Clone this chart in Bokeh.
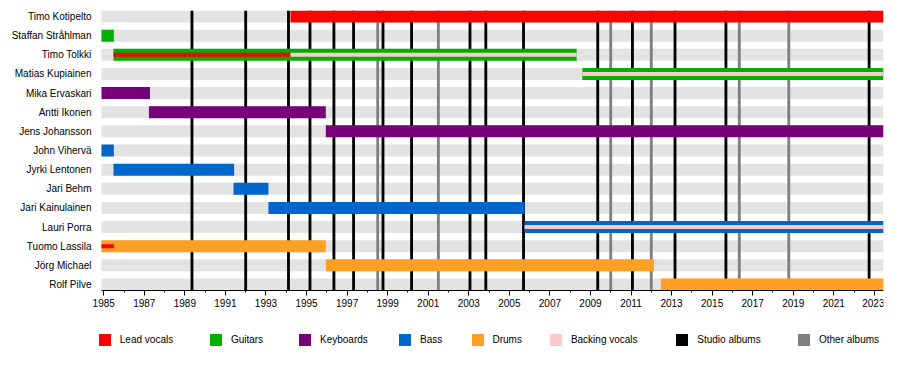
from bokeh.plotting import figure
from bokeh.models import Range1d, FixedTicker, ColumnDataSource, Legend, LegendItem
from bokeh.embed import file_html
from bokeh.resources import INLINE

# ---------------- data ----------------
START = 1984.89
END = 2023.45

members = ["Timo Kotipelto", "Staffan Stråhlman", "Timo Tolkki", "Matias Kupiainen",
           "Mika Ervaskari", "Antti Ikonen", "Jens Johansson", "John Vihervä",
           "Jyrki Lentonen", "Jari Behm", "Jari Kainulainen", "Lauri Porra",
           "Tuomo Lassila", "Jörg Michael", "Rolf Pilve"]

roles = ["Lead vocals", "Guitars", "Keyboards", "Bass", "Drums", "Backing vocals"]
role_colors = ["#ff0000", "#00b000", "#780078", "#0066cc", "#ffa024", "#ffc8cf"]

main_member = ["Timo Kotipelto", "Staffan Stråhlman", "Timo Tolkki", "Matias Kupiainen",
               "Mika Ervaskari", "Antti Ikonen", "Jens Johansson", "John Vihervä",
               "Jyrki Lentonen", "Jari Behm", "Jari Kainulainen", "Lauri Porra",
               "Tuomo Lassila", "Jörg Michael", "Rolf Pilve"]
main_role = ["Lead vocals", "Guitars", "Guitars", "Guitars",
             "Keyboards", "Keyboards", "Keyboards", "Bass",
             "Bass", "Bass", "Bass", "Bass",
             "Drums", "Drums", "Drums"]
main_start = [1994.21, START, 1985.48, 2008.60,
              START, 1987.23, 1995.95, START,
              1985.48, 1991.40, 1993.12, 2005.75,
              START, 1995.95, 2012.47]
main_end = [END, 1985.50, 2008.32, END,
            1987.28, 1995.95, END, 1985.50,
            1991.43, 1993.12, 2005.75, END,
            1995.95, 2012.13, END]

sec_member = ["Timo Tolkki", "Timo Tolkki", "Matias Kupiainen", "Lauri Porra", "Tuomo Lassila"]
sec_role = ["Lead vocals", "Backing vocals", "Backing vocals", "Backing vocals", "Lead vocals"]
sec_start = [1985.48, 1994.21, 2008.60, 2005.75, START]
sec_end = [1994.21, 2008.32, END, END, 1985.50]

studio_albums = [1989.35, 1992.00, 1994.11, 1995.17, 1996.35, 1997.32, 1998.77, 2000.18,
                 2003.06, 2003.84, 2005.70, 2009.36, 2011.07, 2013.17, 2015.68, 2022.74]
other_albums = [1998.51, 2001.50, 2010.00, 2012.00, 2016.34, 2018.78]

major_years = list(range(1985, 2024, 2))
minor_years = list(range(1985, 2024))

# ---------------- styling / layout ----------------
FONT = "Liberation Sans"
W, H = 884, 354
FRAME_LEFT = 92          # px, frame left edge
BAR_LEFT = 101           # px where the timeline begins
FRAME_TOP = 10
ROWS_BOTTOM = 290        # px where the rows end (x-axis line)
PAD = 0.315
BAR_H = 0.627
INNER_H = 0.21
ALBUM_W = 0.14
LEGEND_X = [4.8, 115.9, 205.0, 305.0, 377.5, 455.9, 582.3, 704.0]
LEGEND_Y = 7.5

n = len(members)
row = {m: i for i, m in enumerate(members)}
color = dict(zip(roles, role_colors))

frame_w = W - FRAME_LEFT - 1
px_per_year = (FRAME_LEFT + frame_w - BAR_LEFT) / (END - START)
x_start = START - (BAR_LEFT - FRAME_LEFT) / px_per_year

rows_span = (n - 1) + 2 * PAD
px_per_row = (ROWS_BOTTOM - FRAME_TOP) / rows_span
y_bottom = (n - 1) + PAD + (H - ROWS_BOTTOM) / px_per_row

p = figure(width=W, height=H,
           x_range=Range1d(x_start, END),
           y_range=Range1d(y_bottom, -PAD),
           output_backend="svg", toolbar_location=None,
           min_border_left=FRAME_LEFT, min_border_right=1,
           min_border_top=FRAME_TOP, min_border_bottom=0)
p.outline_line_color = None
p.xgrid.visible = False
p.ygrid.visible = False
p.background_fill_color = "white"

# row stripes
p.hbar(y=list(range(n)), left=START, right=END, height=BAR_H,
       fill_color="#e3e3e3", line_color=None, level="image")

# album lines
studio_r = p.vbar(x=studio_albums, width=ALBUM_W, bottom=-PAD, top=n - 1 + PAD,
                  fill_color="black", line_color=None, level="underlay")
other_r = p.vbar(x=other_albums, width=ALBUM_W, bottom=-PAD, top=n - 1 + PAD,
                 fill_color="#7f7f7f", line_color=None, level="underlay")

role_renderers = {r: [] for r in roles}

for r in roles:
    idx = [i for i, rr in enumerate(main_role) if rr == r]
    if not idx:
        continue
    src = ColumnDataSource(dict(
        y=[row[main_member[i]] for i in idx],
        left=[main_start[i] for i in idx],
        right=[main_end[i] for i in idx]))
    rend = p.hbar(y="y", left="left", right="right", height=BAR_H, source=src,
                  fill_color=color[r], line_color=None)
    role_renderers[r].append(rend)

for r in roles:
    idx = [i for i, rr in enumerate(sec_role) if rr == r]
    if not idx:
        continue
    src = ColumnDataSource(dict(
        y=[row[sec_member[i]] for i in idx],
        left=[sec_start[i] for i in idx],
        right=[sec_end[i] for i in idx]))
    rend = p.hbar(y="y", left="left", right="right", height=INNER_H, source=src,
                  fill_color=color[r], line_color=None)
    role_renderers[r].append(rend)

# axes
p.xaxis.fixed_location = n - 1 + PAD
p.xaxis.bounds = (START, END)
p.xaxis.ticker = FixedTicker(ticks=major_years, minor_ticks=minor_years)
p.xaxis.axis_line_color = "black"
p.xaxis.major_tick_line_color = "black"
p.xaxis.minor_tick_line_color = "black"
p.xaxis.major_tick_in = 0
p.xaxis.major_tick_out = 5
p.xaxis.minor_tick_in = 0
p.xaxis.minor_tick_out = 2
p.xaxis.major_label_standoff = 3
p.xaxis.major_label_text_font = FONT
p.xaxis.major_label_text_font_size = "10px"
p.xaxis.major_label_text_color = "black"

p.yaxis.ticker = FixedTicker(ticks=list(range(n)), minor_ticks=[])
p.yaxis.major_label_overrides = {i: m for i, m in enumerate(members)}
p.yaxis.axis_line_color = None
p.yaxis.major_tick_line_color = None
p.yaxis.minor_tick_line_color = None
p.yaxis.major_tick_out = 0
p.yaxis.major_tick_in = 0
p.yaxis.major_label_standoff = 1
p.yaxis.major_label_text_font = FONT
p.yaxis.major_label_text_font_size = "10px"
p.yaxis.major_label_text_color = "black"

# legend (one box per entry so spacing matches)
items = [LegendItem(label=r, renderers=role_renderers[r][:1]) for r in roles]
items.append(LegendItem(label="Studio albums", renderers=[studio_r]))
items.append(LegendItem(label="Other albums", renderers=[other_r]))

for item, lx in zip(items, LEGEND_X):
    lg = Legend(items=[item], location=(lx, LEGEND_Y), orientation="horizontal",
                padding=0, margin=0, spacing=0,
                glyph_width=15, glyph_height=15, label_height=15, label_width=10,
                label_standoff=8,
                border_line_color=None, background_fill_alpha=0,
                label_text_font=FONT, label_text_font_size="10px",
                label_text_color="black")
    p.add_layout(lg, "center")

open("out.html", "w").write(file_html(p, INLINE))
